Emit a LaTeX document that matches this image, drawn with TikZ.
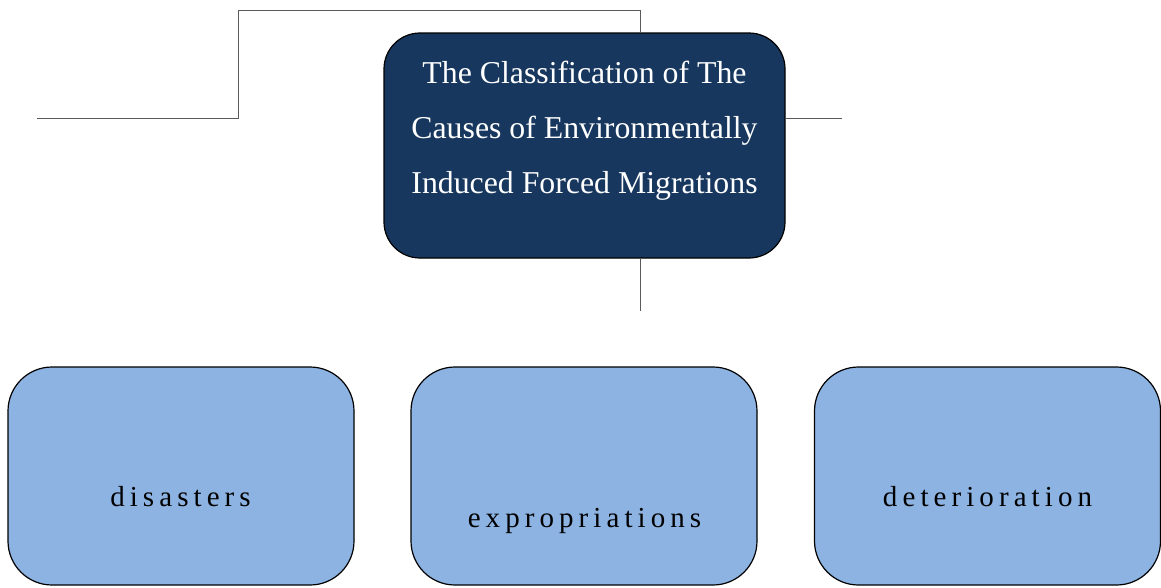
\documentclass[tikz,border=0pt]{standalone}
\usepackage{fontspec}
\setmainfont{Liberation Serif}
\definecolor{darkbox}{HTML}{17375E}
\definecolor{lightbox}{HTML}{8DB3E2}
\definecolor{linegray}{HTML}{5A5A5A}
\tikzset{
  topbox/.style={draw=black, line width=1.2pt, fill=darkbox, rounded corners=36pt, inner sep=0pt, minimum width=401pt, minimum height=225pt},
  catbox/.style={draw=black, line width=1.2pt, fill=lightbox, rounded corners=44pt, inner sep=0pt, minimum width=346pt, minimum height=218pt},
  toptext/.style={text=white, inner sep=0pt, anchor=base, font=\fontsize{31.8}{38}\selectfont},
  cattext/.style={text=black, inner sep=0pt, anchor=base, font=\fontsize{29}{34}\selectfont\addfontfeature{LetterSpace=17.5}},
  conn/.style={draw=linegray, line width=0.9pt}
}
\begin{document}
\begin{tikzpicture}[x=1pt,y=-1pt]
\useasboundingbox (0,0) rectangle (1161,587);
\coordinate (a1) at (640,10);
\coordinate (a2) at (238,10);
\coordinate (a3) at (238,118);
\coordinate (a4) at (37,118);
\coordinate (b1) at (842,118);
\coordinate (c1) at (640,311);
\node[topbox] (top) at (584.5,145.5) {};
\draw[conn] (top.north -| a1) -- (a1) -- (a2) -- (a3) -- (a4);
\draw[conn] (top.east |- b1) -- (b1);
\draw[conn] (top.south -| c1) -- (c1);
\node[toptext] (l1) at (584.5,83) {The Classification of The};
\node[toptext] (l2) at (584.5,138) {Causes of Environmentally};
\node[toptext] (l3) at (584.5,193) {Induced Forced Migrations};
\node[catbox] (dis) at (181,476) {};
\node[catbox] (exp) at (584,476) {};
\node[catbox] (det) at (987.5,476) {};
\node[cattext] (tdis) at (180.5,506) {disasters};
\node[cattext] (texp) at (584.5,527) {expropriations};
\node[cattext] (tdet) at (987.5,506) {deterioration};
\end{tikzpicture}
\end{document}
